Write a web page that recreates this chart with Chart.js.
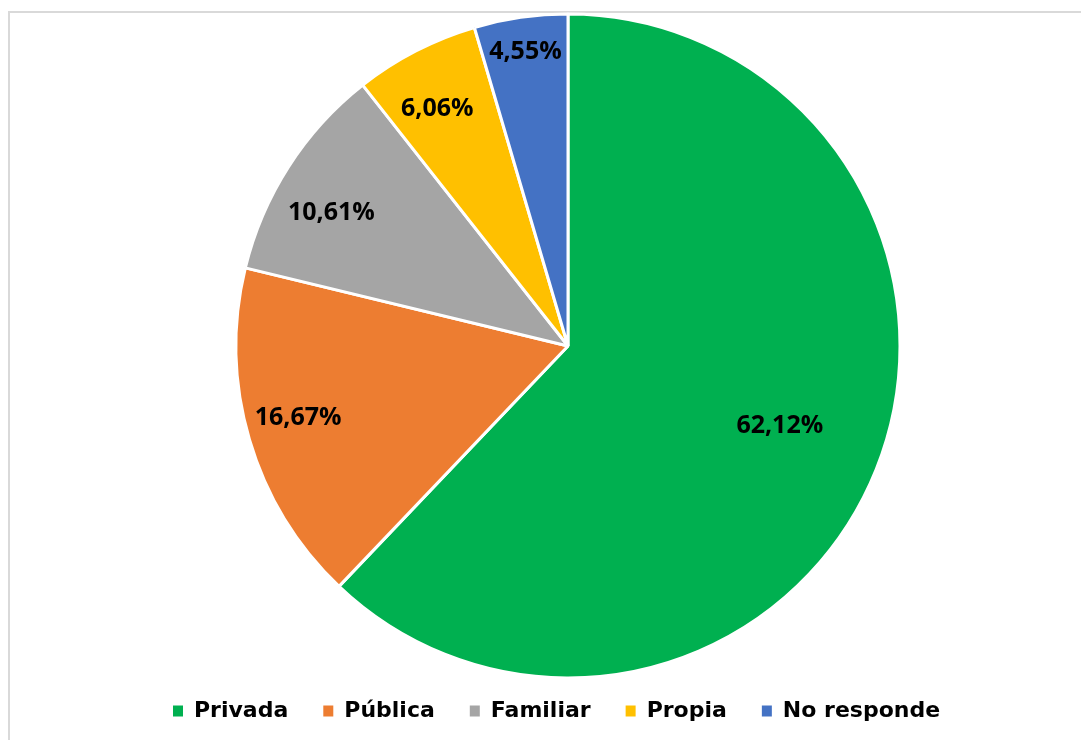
<!DOCTYPE html>
<html>
<head>
<meta charset="utf-8">
<script src="https://cdn.jsdelivr.net/npm/chart.js@4"></script>
<style>
  html, body { margin: 0; padding: 0; background: #fff; overflow: hidden; width: 1081px; height: 740px; }
  #frame { position: absolute; left: 8px; top: 11px; width: 2000px; height: 2000px; border: 2px solid #d9d9d9; box-sizing: border-box; }
  #c { position: absolute; left: 0; top: 0; }
</style>
</head>
<body>
<div id="frame"></div>
<canvas id="c" width="1081" height="740"></canvas>
<script>
const categories = ['Privada', 'Pública', 'Familiar', 'Propia', 'No responde'];
const values = [62.12, 16.67, 10.61, 6.06, 4.55];
const valueLabels = ['62,12%', '16,67%', '10,61%', '6,06%', '4,55%'];
const colors = ['#00B050', '#ED7D31', '#A5A5A5', '#FFC000', '#4472C4'];
const labelRadiusFrac = [0.68, 0.84, 0.82, 0.82, 0.9];
const labelAngleFrac = [0.493, 0.53, 0.42, 0.436, 0.5];

const sliceLabels = {
  id: 'sliceLabels',
  afterDatasetsDraw(chart) {
    const ctx = chart.ctx;
    const meta = chart.getDatasetMeta(0);
    ctx.save();
    ctx.font = 'bold 25px "Open Sans", "DejaVu Sans", sans-serif';
    ctx.fillStyle = '#000';
    ctx.textAlign = 'center';
    ctx.textBaseline = 'middle';
    meta.data.forEach((arc, i) => {
      const p = arc.getProps(['x', 'y', 'startAngle', 'endAngle', 'outerRadius'], true);
      const a = p.startAngle + (p.endAngle - p.startAngle) * labelAngleFrac[i];
      const r = p.outerRadius * labelRadiusFrac[i];
      ctx.fillText(valueLabels[i], p.x + Math.cos(a) * r, p.y + Math.sin(a) * r + 2);
    });
    ctx.restore();
  }
};

new Chart(document.getElementById('c'), {
  type: 'pie',
  data: {
    labels: categories,
    datasets: [{
      data: values,
      backgroundColor: colors,
      borderColor: '#ffffff',
      borderWidth: 3,
      radius: 332,
      clip: false
    }]
  },
  options: {
    responsive: false,
    animation: false,
    devicePixelRatio: 1,
    layout: { padding: { left: 138, right: 83, top: 27, bottom: 8 } },
    plugins: {
      tooltip: { enabled: false },
      legend: {
        position: 'bottom',
        align: 'start',
        labels: {
          boxWidth: 10,
          boxHeight: 11,
          padding: 35,
          color: '#000',
          font: { family: '"DejaVu Sans", sans-serif', size: 22, weight: 'bold' },
          generateLabels: () => categories.map((t, i) => ({
            text: t, fillStyle: colors[i], strokeStyle: colors[i], lineWidth: 0,
            hidden: false, index: i, fontColor: '#000'
          }))
        }
      }
    }
  },
  plugins: [sliceLabels]
});
</script>
</body>
</html>
